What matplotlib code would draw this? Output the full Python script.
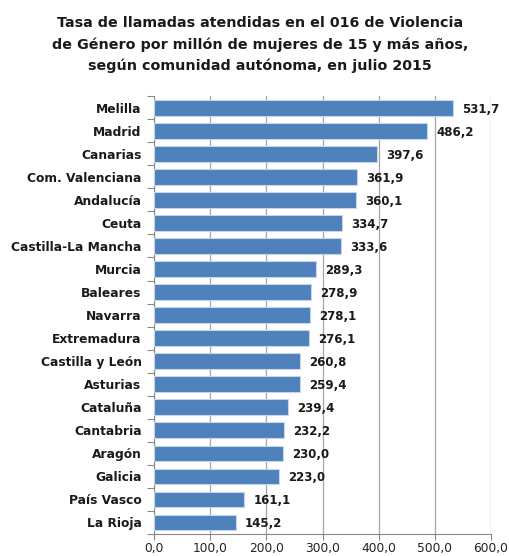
import matplotlib
matplotlib.use("Agg")
import matplotlib.pyplot as plt
import numpy as np

categories = ["Melilla", "Madrid", "Canarias", "Com. Valenciana", "Andalucía", "Ceuta",
              "Castilla-La Mancha", "Murcia", "Baleares", "Navarra", "Extremadura",
              "Castilla y León", "Asturias", "Cataluña", "Cantabria", "Aragón",
              "Galicia", "País Vasco", "La Rioja"]
values = [531.7, 486.2, 397.6, 361.9, 360.1, 334.7, 333.6, 289.3, 278.9, 278.1, 276.1,
          260.8, 259.4, 239.4, 232.2, 230.0, 223.0, 161.1, 145.2]
xticks = [0, 100, 200, 300, 400, 500, 600]
title = ("Tasa de llamadas atendidas en el 016 de Violencia\n"
         "de Género por millón de mujeres de 15 y más años,\n"
         "según comunidad autónoma, en julio 2015")

plt.rcParams['font.family'] = ['DejaVu Sans']

fig = plt.figure(figsize=(5.09, 5.56), dpi=100)
ax = fig.add_axes([0.3026, 0.0396, 0.662, 0.7874])

y = np.arange(len(categories))
ax.barh(y, values, height=0.68, color="#4F81BD", edgecolor="#C6D6EA", linewidth=0.8, zorder=3)
ax.set_ylim(len(categories) - 0.5, -0.5)
ax.set_xlim(0, 600)

for yi, v in zip(y, values):
    ax.annotate(f"{v:.1f}".replace(".", ","), (v, yi), xytext=(6.5, -1), textcoords="offset points",
                ha="left", va="center", fontsize=8.5, fontweight="bold", color="#1a1a1a")

ax.set_yticks(y)
ax.set_yticklabels(categories, fontsize=8.8, fontweight="bold", color="#1a1a1a")
ax.set_yticks(np.arange(-0.5, len(categories), 1), minor=True)
ax.tick_params(axis="y", which="major", length=0, pad=9)
ax.tick_params(axis="y", which="minor", length=5, color="#888888", width=0.8)

ax.set_xticks(xticks)
ax.set_xticklabels([f"{t:.1f}".replace(".", ",") for t in xticks], fontsize=8.8, color="#222222")
ax.tick_params(axis="x", length=4, color="#888888", width=0.8, pad=1.5)

ax.grid(axis="x", color="#A6A6A6", linewidth=0.9, zorder=0)
for s in ["top", "right"]:
    ax.spines[s].set_visible(False)
for s in ["left", "bottom"]:
    ax.spines[s].set_color("#888888")
    ax.spines[s].set_linewidth(0.8)

fig.text(0.511, 0.971, title, ha="center", va="top", fontsize=10.3, fontweight="bold",
         color="#1a1a1a", linespacing=1.6)

fig.savefig("out.png", dpi=100, facecolor="white")
